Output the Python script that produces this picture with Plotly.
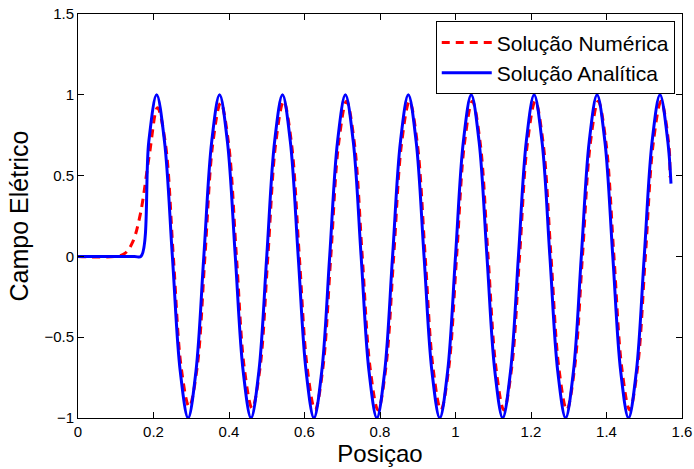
import plotly.graph_objects as go

# Analytical solution: key points (flat until ~0.1667, then wave of period ~1/6)
analitica_x = [0.0, 0.15, 0.1667,
    0.1875, 0.2083, 0.2292, 0.25, 0.2708, 0.2917, 0.3125, 0.3333,
    0.3542, 0.375, 0.3958, 0.4167, 0.4375, 0.4583, 0.4792, 0.5,
    0.5208, 0.5417, 0.5625, 0.5833, 0.6042, 0.625, 0.6458, 0.6667,
    0.6875, 0.7083, 0.7292, 0.75, 0.7708, 0.7917, 0.8125, 0.8333,
    0.8542, 0.875, 0.8958, 0.9167, 0.9375, 0.9583, 0.9792, 1.0,
    1.0208, 1.0417, 1.0625, 1.0833, 1.1042, 1.125, 1.1458, 1.1667,
    1.1875, 1.2083, 1.2292, 1.25, 1.2708, 1.2917, 1.3125, 1.3333,
    1.3542, 1.375, 1.3958, 1.4167, 1.4375, 1.4583, 1.4792, 1.5,
    1.5208, 1.5417, 1.5625, 1.5708]
analitica_y = [0.0, 0.0, 0.0,
    0.71, 1.0, 0.71, 0.0, -0.71, -1.0, -0.71, 0.0,
    0.71, 1.0, 0.71, 0.0, -0.71, -1.0, -0.71, 0.0,
    0.71, 1.0, 0.71, 0.0, -0.71, -1.0, -0.71, 0.0,
    0.71, 1.0, 0.71, 0.0, -0.71, -1.0, -0.71, 0.0,
    0.71, 1.0, 0.71, 0.0, -0.71, -1.0, -0.71, 0.0,
    0.71, 1.0, 0.71, 0.0, -0.71, -1.0, -0.71, 0.0,
    0.71, 1.0, 0.71, 0.0, -0.71, -1.0, -0.71, 0.0,
    0.71, 1.0, 0.71, 0.0, -0.71, -1.0, -0.71, 0.0,
    0.71, 1.0, 0.71, 0.45]

# Numerical solution: key points (smooth onset, slightly lower amplitude, slight lag)
numerica_x = [0.0, 0.10, 0.125, 0.145, 0.165,
    0.1885, 0.2105, 0.2315, 0.2525, 0.2735, 0.2945, 0.3155, 0.3363,
    0.3572, 0.378, 0.3988, 0.4197, 0.4405, 0.4613, 0.4822, 0.503,
    0.5238, 0.5447, 0.5655, 0.5863, 0.6072, 0.628, 0.6488, 0.6697,
    0.6905, 0.7113, 0.7322, 0.753, 0.7738, 0.7947, 0.8155, 0.8363,
    0.8572, 0.878, 0.8988, 0.9197, 0.9405, 0.9613, 0.9822, 1.003,
    1.0238, 1.0447, 1.0655, 1.0863, 1.1072, 1.128, 1.1488, 1.1697,
    1.1905, 1.2113, 1.2322, 1.253, 1.2738, 1.2947, 1.3155, 1.3363,
    1.3572, 1.378, 1.3988, 1.4197, 1.4405, 1.4613, 1.4822, 1.503,
    1.5238, 1.5447, 1.5655, 1.568]
numerica_y = [0.0, 0.0, 0.02, 0.09, 0.26,
    0.62, 0.92, 0.70, 0.0, -0.69, -0.93, -0.69, 0.0,
    0.70, 0.95, 0.70, 0.0, -0.69, -0.94, -0.69, 0.0,
    0.70, 0.96, 0.70, 0.0, -0.69, -0.95, -0.69, 0.0,
    0.70, 0.96, 0.70, 0.0, -0.69, -0.95, -0.69, 0.0,
    0.70, 0.96, 0.70, 0.0, -0.69, -0.95, -0.69, 0.0,
    0.70, 0.96, 0.70, 0.0, -0.69, -0.95, -0.69, 0.0,
    0.70, 0.96, 0.70, 0.0, -0.69, -0.95, -0.69, 0.0,
    0.70, 0.96, 0.70, 0.0, -0.69, -0.95, -0.69, 0.0,
    0.70, 0.96, 0.68, 0.49]

x_ticks = [0, 0.2, 0.4, 0.6, 0.8, 1.0, 1.2, 1.4, 1.6]
x_labels = ["0", "0.2", "0.4", "0.6", "0.8", "1", "1.2", "1.4", "1.6"]
y_ticks = [-1, -0.5, 0, 0.5, 1, 1.5]
y_labels = ["\u22121", "\u22120.5", "0", "0.5", "1", "1.5"]

fig = go.Figure()
fig.add_trace(go.Scatter(
    x=numerica_x, y=numerica_y, mode="lines", name="Solução Numérica",
    line=dict(color="#ff0000", width=3, dash="8px,6px", shape="spline", smoothing=1.0),
))
fig.add_trace(go.Scatter(
    x=analitica_x, y=analitica_y, mode="lines", name="Solução Analítica",
    line=dict(color="#0000ff", width=3, shape="spline", smoothing=1.0),
))

font_family = "Liberation Sans, Arial, Helvetica, sans-serif"
axis_common = dict(
    showgrid=False, zeroline=False, showline=True, linecolor="black", linewidth=1,
    mirror="ticks", ticks="inside", ticklen=6, tickcolor="black", tickwidth=1,
    tickfont=dict(family=font_family, size=15, color="black"),
    automargin=False,
)
fig.update_layout(
    width=694, height=469,
    margin=dict(l=78, r=12, t=14, b=51),
    paper_bgcolor="white", plot_bgcolor="white",
    font=dict(family=font_family, color="black"),
    xaxis=dict(range=[0, 1.6], tickvals=x_ticks, ticktext=x_labels,
               title=dict(text="Posiçao", font=dict(size=24), standoff=4), **axis_common),
    yaxis=dict(range=[-1, 1.5], tickvals=y_ticks, ticktext=y_labels,
               title=dict(text="Campo Elétrico", font=dict(size=25), standoff=8), **axis_common),
    legend=dict(x=0.988, y=0.982, xanchor="right", yanchor="top",
                bgcolor="white", bordercolor="black", borderwidth=1,
                font=dict(size=21, family=font_family), tracegroupgap=0,
                itemwidth=50),
    showlegend=True,
)
fig.write_html("out.html")
